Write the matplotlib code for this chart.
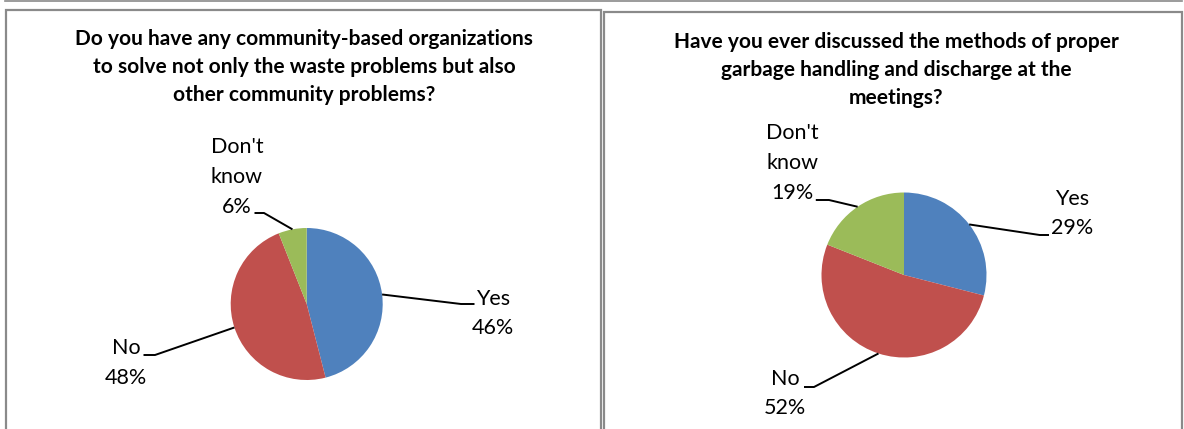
import numpy as np
import matplotlib
matplotlib.use("Agg")
import matplotlib.pyplot as plt
from matplotlib.patches import Rectangle

# data
categories = ["Yes", "No", "Don't\nknow"]
values_left = [46, 48, 6]
values_right = [29, 52, 19]
title_left = ("Do you have any community-based organizations\n"
              "to solve not only the waste problems but also\n"
              "other community problems?")
title_right = ("Have you ever discussed the methods of proper\n"
               "garbage handling and discharge at the\n"
               "meetings?")
colors = ["#4F81BD", "#C0504D", "#9BBB59"]

W, H = 1184, 429
plt.rcParams['font.family'] = ['Lato', 'DejaVu Sans']

fig = plt.figure(figsize=(W / 100, H / 100), dpi=100)
ax = fig.add_axes([0, 0, 1, 1])

# panel frames (pixel coords, y from top)
def frame(x0, y0, x1, y1):
    ax.add_patch(Rectangle((x0, H - y1), x1 - x0, y1 - y0, fill=False,
                           edgecolor="#8a8a8a", lw=1.6, zorder=0))

ax.plot([5, 1182], [H - 0.5, H - 0.5], color="#8a8a8a", lw=1.2)
frame(6, 9.5, 601, 450)
frame(604, 12, 1182, 450)


def draw_pie(values, center, radius, title, title_xy, label_pos, elbows):
    cx, cy = center[0], H - center[1]
    ax.pie(values, colors=colors, startangle=90, counterclock=False,
           center=(cx, cy), radius=radius, frame=True,
           wedgeprops=dict(linewidth=0))
    ax.text(title_xy[0], H - title_xy[1], title, ha="center", va="center",
            fontsize=15, fontweight="bold", linespacing=1.5)
    total = sum(values)
    start = 0
    for cat, v, lp, el in zip(categories, values, label_pos, elbows):
        mid = (start + v / 2) / total * 360
        start += v
        ang = np.deg2rad(90 - mid)
        px = cx + radius * np.cos(ang)
        py = cy + radius * np.sin(ang)
        ax.plot([px, el[0], el[1]], [py, H - el[2], H - el[2]],
                color="black", lw=1.4, solid_capstyle="butt")
        ax.text(lp[0], H - lp[1], f"{cat}\n{v}%", ha="center", va="center",
                fontsize=15.5, linespacing=1.62)


draw_pie(values_left, (306.7, 304), 76, title_left, (304, 67),
         [(493, 313.5), (126, 363), (237, 177)],
         [(461, 474.5, 304), (155, 143.5, 355), (264, 254.5, 213)])
draw_pie(values_right, (904, 275), 82.5, title_right, (896, 69.5),
         [(1072, 213.5), (785, 393.5), (792, 163)],
         [(1039.7, 1049, 235), (814, 804, 387), (829, 815.8, 200)])

ax.set_xlim(0, W)
ax.set_ylim(0, H)
ax.set_aspect("auto")
ax.axis("off")

fig.savefig("out.png", dpi=100, facecolor="white")
